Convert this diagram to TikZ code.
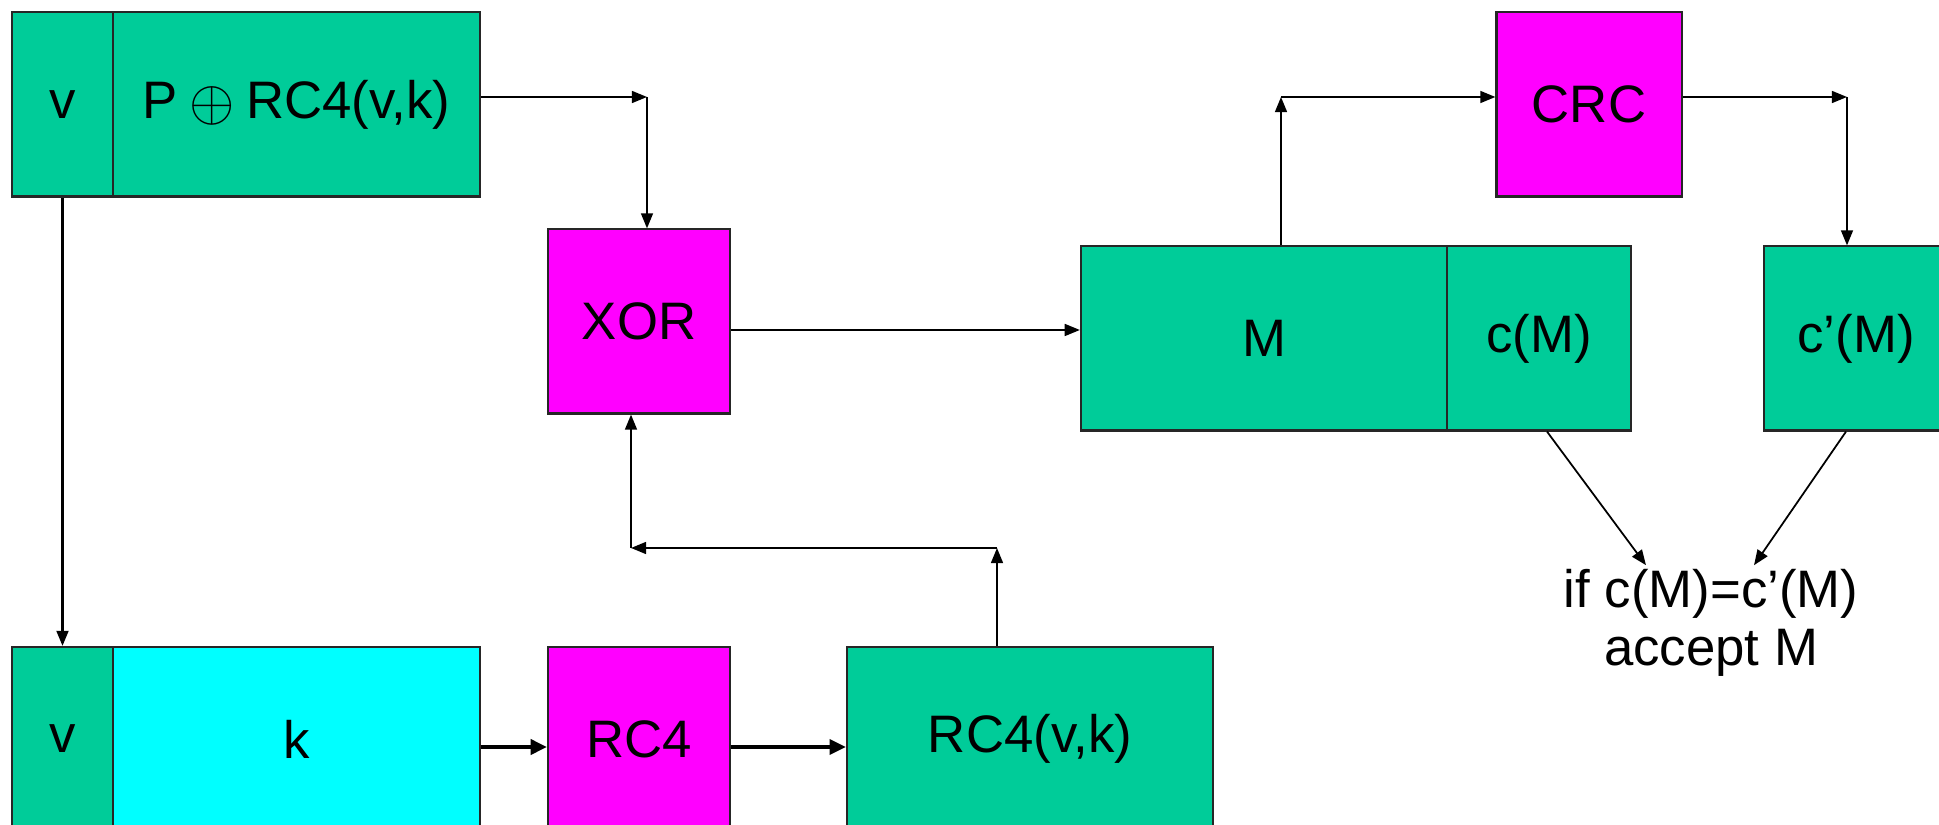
\documentclass[tikz,border=0pt]{standalone}
\usepackage{fontspec}
\setmainfont{Liberation Sans}
\usetikzlibrary{arrows.meta}
\definecolor{wepgreen}{RGB}{0,204,153}
\definecolor{wepmagenta}{RGB}{255,0,255}
\definecolor{wepcyan}{RGB}{0,255,255}

\begin{document}
\begin{tikzpicture}[x=0.01cm,y=-0.01cm,
  box/.style={draw=black!85, line width=0.6pt, minimum height=1.84cm, inner sep=0pt,
    font=\fontsize{15}{18}\selectfont},
  greenbox/.style={box, fill=wepgreen},
  pinkbox/.style={box, fill=wepmagenta},
  cyanbox/.style={box, fill=wepcyan},
  arr/.style={line width=0.5pt, -{Triangle[length=4.3pt,width=3.4pt]}},
  thickarr/.style={line width=0.9pt, -{Triangle[length=4.6pt,width=4.3pt]}}]
\clip (0,0) rectangle (1939,825);

% received frame
\node[greenbox, minimum width=1.01cm] (tv) at (62.5,104.5) {v};
\node[greenbox, minimum width=3.67cm] (tp) at (296.5,104.5)
  {P\hspace{0.22em}\raisebox{-0.1ex}{\scalebox{1.15}{$\oplus$}}\hspace{0.22em}RC4(v,k)};

% decryption
\node[pinkbox, minimum width=1.82cm] (xor) at (639,321.5) {XOR};
\node[greenbox, minimum width=3.66cm] (msg) at (1264,338.5) {M};
\node[greenbox, minimum width=1.84cm] (cm) at (1539,338.5) {c(M)};

% checksum
\node[pinkbox, minimum width=1.85cm] (crc) at (1589,104.5) {CRC};
\node[greenbox, minimum width=1.84cm] (cpm) at (1856,338.5) {c’(M)};
\node[align=center, inner sep=1pt, font=\fontsize{15}{16.5}\selectfont] (chk) at (1711,623)
  {if c(M)=c’(M)\\accept M};

% key stream
\node[greenbox, minimum width=1.01cm] (bv) at (62.5,739) {v};
\node[cyanbox, minimum width=3.67cm] (bk) at (296.5,739) {k};
\node[pinkbox, minimum width=1.82cm] (rc4) at (639,739) {RC4};
\node[greenbox, minimum width=3.66cm] (ks) at (1030,739) {RC4(v,k)};

\coordinate (c1) at (647,97);
\coordinate (c2) at (1281,97);
\coordinate (c3) at (1847,97);
\coordinate (c4) at (997,548);
\coordinate (c5) at (631,548);

\draw[arr] (tp.east |- c1) -- (c1);
\draw[arr] (c1) -- (c1 |- xor.north);
\draw[arr] ([yshift=-0.085cm]xor.east) -- ([yshift=0.085cm]msg.west);
\draw[arr] (msg.north -| c2) -- (c2);
\draw[arr] (c2) -- (crc.west |- c2);
\draw[arr] (crc.east |- c3) -- (c3);
\draw[arr] (c3) -- (c3 |- cpm.north);
\draw[arr] ([xshift=0.08cm]cm.south) -- ([xshift=-0.65cm]chk.north);
\draw[arr] ([xshift=-0.1cm]cpm.south) -- ([xshift=0.43cm]chk.north);

\draw[arr, line width=0.6pt] (tv.south) -- (bv.north);
\draw[thickarr] ([yshift=-0.08cm]bk.east) -- ([yshift=-0.08cm]rc4.west);
\draw[thickarr] ([yshift=-0.08cm]rc4.east) -- ([yshift=-0.08cm]ks.west);
\draw[arr] (ks.north -| c4) -- (c4);
\draw[arr] (c4) -- (c5);
\draw[arr] (c5) -- (c5 |- xor.south);
\end{tikzpicture}
\end{document}
